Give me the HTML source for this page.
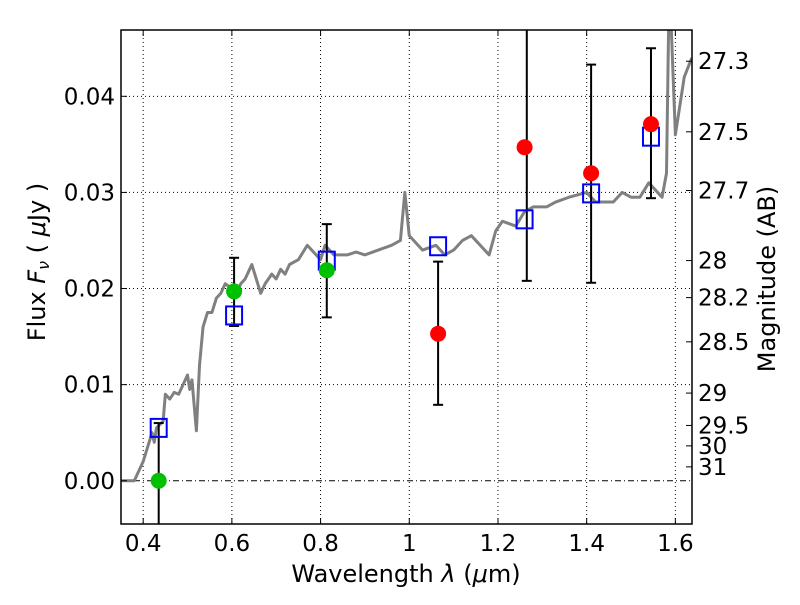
<!DOCTYPE html>
<html><head><meta charset="utf-8"><style>
body{margin:0;background:#fff;}
svg text{font-family:"DejaVu Sans","Liberation Sans",sans-serif;}
</style></head><body>
<svg id="chart" width="800" height="600" xmlns="http://www.w3.org/2000/svg"></svg>
<script>
const specX=[0.35,0.38,0.40,0.42,0.425,0.43,0.445,0.45,0.46,0.47,0.48,0.49,0.50,0.505,0.51,0.52,0.527,0.535,0.545,0.555,0.565,0.575,0.585,0.60,0.61,0.62,0.63,0.64,0.645,0.655,0.665,0.675,0.69,0.70,0.71,0.72,0.73,0.75,0.77,0.79,0.80,0.81,0.83,0.86,0.88,0.90,0.93,0.96,0.98,0.99,1.0,1.01,1.03,1.06,1.08,1.10,1.12,1.14,1.16,1.18,1.195,1.21,1.24,1.26,1.28,1.31,1.33,1.36,1.40,1.42,1.44,1.46,1.48,1.50,1.52,1.54,1.56,1.57,1.58,1.585,1.59,1.60,1.62,1.637];
const specY=[0,0,0.002,0.005,0.004,0.0055,0.0062,0.009,0.0085,0.0092,0.009,0.010,0.011,0.0095,0.0105,0.0052,0.012,0.016,0.0175,0.0175,0.019,0.0195,0.0205,0.020,0.0195,0.0205,0.021,0.022,0.0225,0.021,0.0195,0.0205,0.0215,0.021,0.022,0.0215,0.0225,0.023,0.0245,0.0235,0.023,0.0245,0.0235,0.0235,0.0238,0.0235,0.024,0.0245,0.025,0.030,0.0255,0.025,0.024,0.0245,0.0235,0.024,0.025,0.0255,0.0245,0.0235,0.026,0.027,0.0265,0.028,0.0285,0.0285,0.029,0.0295,0.030,0.029,0.029,0.029,0.030,0.0295,0.0295,0.031,0.030,0.0295,0.032,0.048,0.048,0.036,0.042,0.044];
const greenX=[0.435,0.605,0.814];
const greenY=[0.0000,0.0197,0.0219];
const redX=[1.065,1.26,1.41,1.545];
const redY=[0.0153,0.0347,0.0320,0.0371];
const sqX=[0.435,0.605,0.814,1.065,1.26,1.41,1.545];
const sqY=[0.0055,0.0172,0.0229,0.0244,0.0272,0.0299,0.0358];
const errX=[0.435,0.605,0.814,1.065,1.265,1.41,1.545];
const errLo=[-0.010,0.0161,0.0170,0.0079,0.0208,0.0206,0.0294];
const errHi=[0.0060,0.0232,0.0267,0.0228,0.060,0.0433,0.0450];
const xTicks=[0.4,0.6,0.8,1.0,1.2,1.4,1.6];
const xTickLabels=["0.4","0.6","0.8","1","1.2","1.4","1.6"];
const yTicks=[0,0.01,0.02,0.03,0.04];
const yTickLabels=["0.00","0.01","0.02","0.03","0.04"];
const magTicks=[27.3,27.5,27.7,28,28.2,28.5,29,29.5,30,31];

const L=121,R=692,T=30,B=524,X0=0.35,X1=1.6375,Y0=-0.0045,Y1=0.0469;
const sx=v=>L+(v-X0)/(X1-X0)*(R-L);
const sy=v=>B-(v-Y0)/(Y1-Y0)*(B-T);
const svg=document.getElementById('chart');
const NS='http://www.w3.org/2000/svg';
function mk(tag,attrs,parent){const e=document.createElementNS(NS,tag);for(const k in attrs)e.setAttribute(k,attrs[k]);(parent||svg).appendChild(e);return e;}
const defs=mk('defs',{});const cp=mk('clipPath',{id:'clip'},defs);mk('rect',{x:L,y:T,width:R-L,height:B-T},cp);
const plot=mk('g',{'clip-path':'url(#clip)'});

xTicks.forEach(t=>{const l=mk('line',{x1:sx(t),x2:sx(t),y1:T,y2:B,stroke:'#000','stroke-width':1,'stroke-dasharray':'1,3'},plot);
});
yTicks.forEach(t=>{const l=mk('line',{x1:L,x2:R,y1:sy(t),y2:sy(t),stroke:'#000','stroke-width':1,'stroke-dasharray':t===0?'6,3,1,3':'1,3'},plot);
});
const sp=mk('polyline',{points:specX.map((x,i)=>sx(x)+','+sy(specY[i])).join(' '),fill:'none',stroke:'#808080','stroke-width':3,'stroke-linejoin':'round'},plot);

errX.forEach((x,i)=>{const g=mk('g',{},plot);

const px=sx(x);mk('line',{x1:px,x2:px,y1:sy(errHi[i]),y2:sy(errLo[i]),stroke:'#000','stroke-width':2},g);
mk('line',{x1:px-5,x2:px+5,y1:sy(errHi[i]),y2:sy(errHi[i]),stroke:'#000','stroke-width':2},g);
mk('line',{x1:px-5,x2:px+5,y1:sy(errLo[i]),y2:sy(errLo[i]),stroke:'#000','stroke-width':2},g);});
sqX.forEach((x,i)=>{const r=mk('rect',{x:sx(x)-8,y:sy(sqY[i])-9,width:16,height:18,fill:'none',stroke:'#0000ff','stroke-width':2},plot);
});
greenX.forEach((x,i)=>{const c=mk('circle',{cx:sx(x),cy:sy(greenY[i]),r:8,fill:'#00c000'},plot);
});
redX.forEach((x,i)=>{const c=mk('circle',{cx:sx(x),cy:sy(redY[i]),r:8,fill:'#ff0000'},plot);
});
const fr=mk('rect',{x:L,y:T,width:R-L,height:B-T,fill:'none',stroke:'#000','stroke-width':1.5});

xTicks.forEach((t,i)=>{const px=sx(t);mk('line',{x1:px,x2:px,y1:B,y2:B-6,stroke:'#000'});mk('line',{x1:px,x2:px,y1:T,y2:T+6,stroke:'#000'});
const tx=mk('text',{x:px,y:B+27,'font-size':23,'text-anchor':'middle'});tx.textContent=xTickLabels[i];
});
yTicks.forEach((t,i)=>{const py=sy(t);mk('line',{x1:L,x2:L+6,y1:py,y2:py,stroke:'#000'});
const tx=mk('text',{x:L-6,y:py+8,'font-size':23,'text-anchor':'end'});tx.textContent=yTickLabels[i];
});
magTicks.forEach(m=>{const f=Math.pow(10,(23.9-m)/2.5);const py=sy(f);mk('line',{x1:R,x2:R-6,y1:py,y2:py,stroke:'#000'});
const tx=mk('text',{x:R+6,y:py+8,'font-size':23});tx.textContent=String(m);
});
const xl=mk('text',{x:406,y:582,'font-size':24,'text-anchor':'middle'});xl.innerHTML='Wavelength  <tspan font-style="italic">λ</tspan> (<tspan font-style="italic">μ</tspan>m)';

const yl=mk('text',{x:0,y:0,'font-size':24,'text-anchor':'middle',transform:'translate(45,262) rotate(-90)'});yl.innerHTML='Flux  <tspan font-style="italic">F</tspan><tspan font-style="italic" font-size="16" dy="4">ν</tspan><tspan dy="-4">  (  </tspan><tspan font-style="italic">μ</tspan>Jy )';

const rl=mk('text',{x:0,y:0,'font-size':24,'text-anchor':'middle',transform:'translate(775,279) rotate(-90)'});rl.textContent='Magnitude (AB)';

</script>
</body></html>
